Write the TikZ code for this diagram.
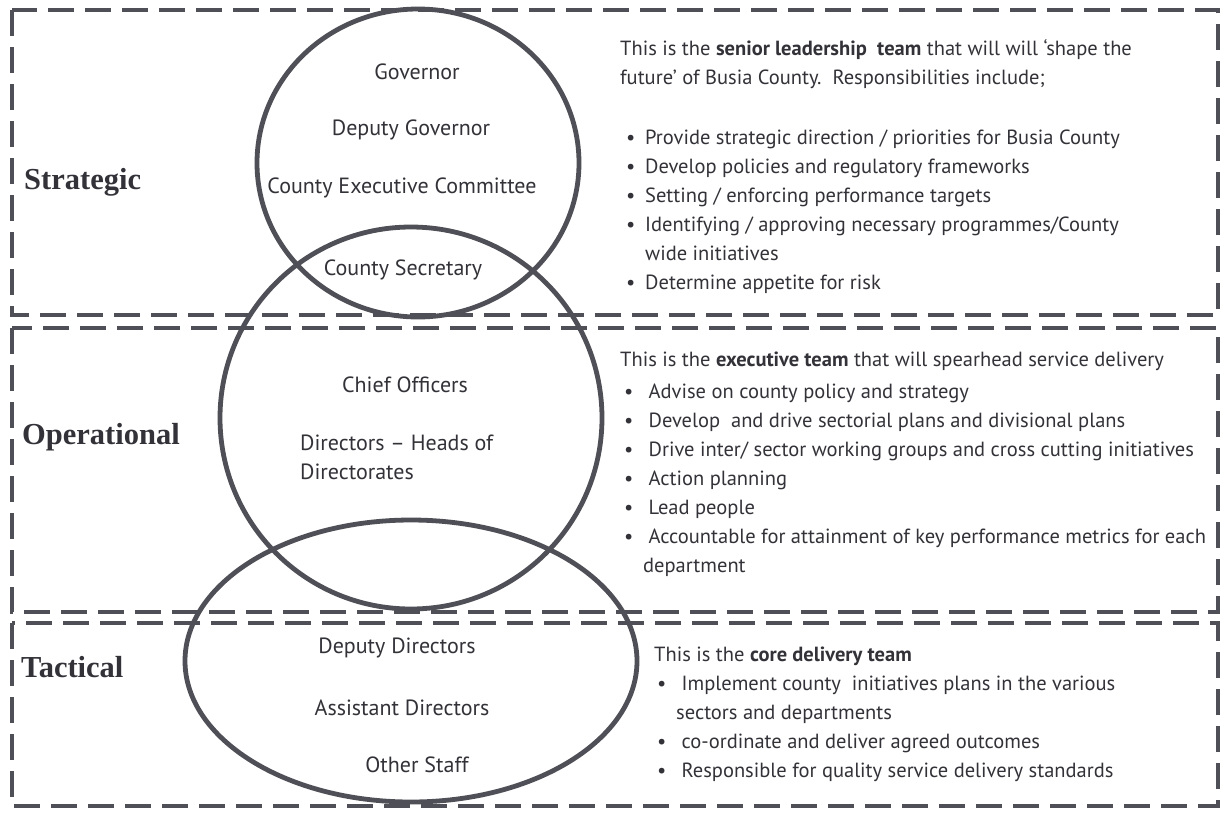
\documentclass[tikz,border=0pt]{standalone}
\usepackage{fontspec}
\setmainfont{PT Sans}
\newfontfamily\tierfont{Liberation Serif}
\definecolor{ink}{HTML}{323238}
\definecolor{rim}{HTML}{4F4F57}
\tikzset{
  band/.style={draw=rim, line width=3.2pt, dash pattern=on 26pt off 11pt},
  ring/.style={draw=rim, line width=4.8pt},
  tier/.style={font=\tierfont\bfseries\fontsize{30.5}{31}\selectfont, text=ink, anchor=west, inner sep=0pt},
  role/.style={font=\fontsize{22}{29}\selectfont, text=ink, inner sep=0pt},
  duty/.style={font=\fontsize{20.5}{29}\selectfont, text=ink, anchor=north west, inner sep=0pt, align=left}
}
\newcommand{\bul}[1][6pt]{\hspace*{#1}\makebox[19pt][l]{\textbullet}}
\begin{document}
\begin{tikzpicture}[x=1pt,y=-1pt]
  \useasboundingbox[fill=white] (0,0) rectangle (1224,812);
  % 三个虚线框
  \draw[band] (12,10) rectangle (1218,315);
  \draw[band] (12,328) rectangle (1218,612);
  \draw[band] (12,623) rectangle (1218,806);
  % 三个椭圆
  \draw[ring] (418,163) ellipse [x radius=161, y radius=154];
  \draw[ring] (411,418) ellipse [x radius=191, y radius=191];
  \draw[ring] (411,661) ellipse [x radius=226, y radius=141];
  % 左侧层级
  \node[tier] (strat) at (24,182) {Strategic};
  \node[tier] (oper) at (22,437) {Operational};
  \node[tier] (tact) at (21,667) {Tactical};
  % 椭圆内的职位
  \node[role] (gov) at (417,72) {Governor};
  \node[role] (dgov) at (411,130) {Deputy Governor};
  \node[role] (cec) at (402,188) {County Executive Committee};
  \node[role] (csec) at (403,270) {County Secretary};
  \node[role] (chief) at (405,385) {Chief Officers};
  \node[role, anchor=west, align=left] (dirs) at (300,457) {Directors -- Heads of\\Directorates};
  \node[role] (ddir) at (397,648) {Deputy Directors};
  \node[role] (adir) at (402,708) {Assistant Directors};
  \node[role] (staff) at (417,765) {Other Staff};
  % 右侧说明
  \node[duty] (stratnote) at (620,39) {This is the \textbf{senior leadership\ \ team} that will will ‘shape the\\
    future’ of Busia County.\ \ Responsibilities include;\\[31pt]
    \bul Provide strategic direction / priorities for Busia County\\
    \bul Develop policies and regulatory frameworks\\
    \bul Setting / enforcing performance targets\\
    \bul Identifying / approving necessary programmes/County\\
    \hspace*{25pt}wide initiatives\\
    \bul Determine appetite for risk};
  \node[duty] (opernote) at (620,352) {This is the \textbf{executive team} that will spearhead service delivery\\[3pt]
    \bul[4pt] Advise on county policy and strategy\\
    \bul[4pt] Develop\ \ and drive sectorial plans and divisional plans\\
    \bul[4pt] Drive inter/ sector working groups and cross cutting initiatives\\
    \bul[4pt] Action planning\\
    \bul[4pt] Lead people\\
    \bul[4pt] Accountable for attainment of key performance metrics for each\\
    \hspace*{23pt}department};
  \node[duty] (tactnote) at (654,647) {This is the \textbf{core delivery team}\\
    \bul[3pt] Implement county\ \ initiatives plans in the various\\
    \hspace*{22pt}sectors and departments\\
    \bul[3pt] co-ordinate and deliver agreed outcomes\\
    \bul[3pt] Responsible for quality service delivery standards};
\end{tikzpicture}
\end{document}
